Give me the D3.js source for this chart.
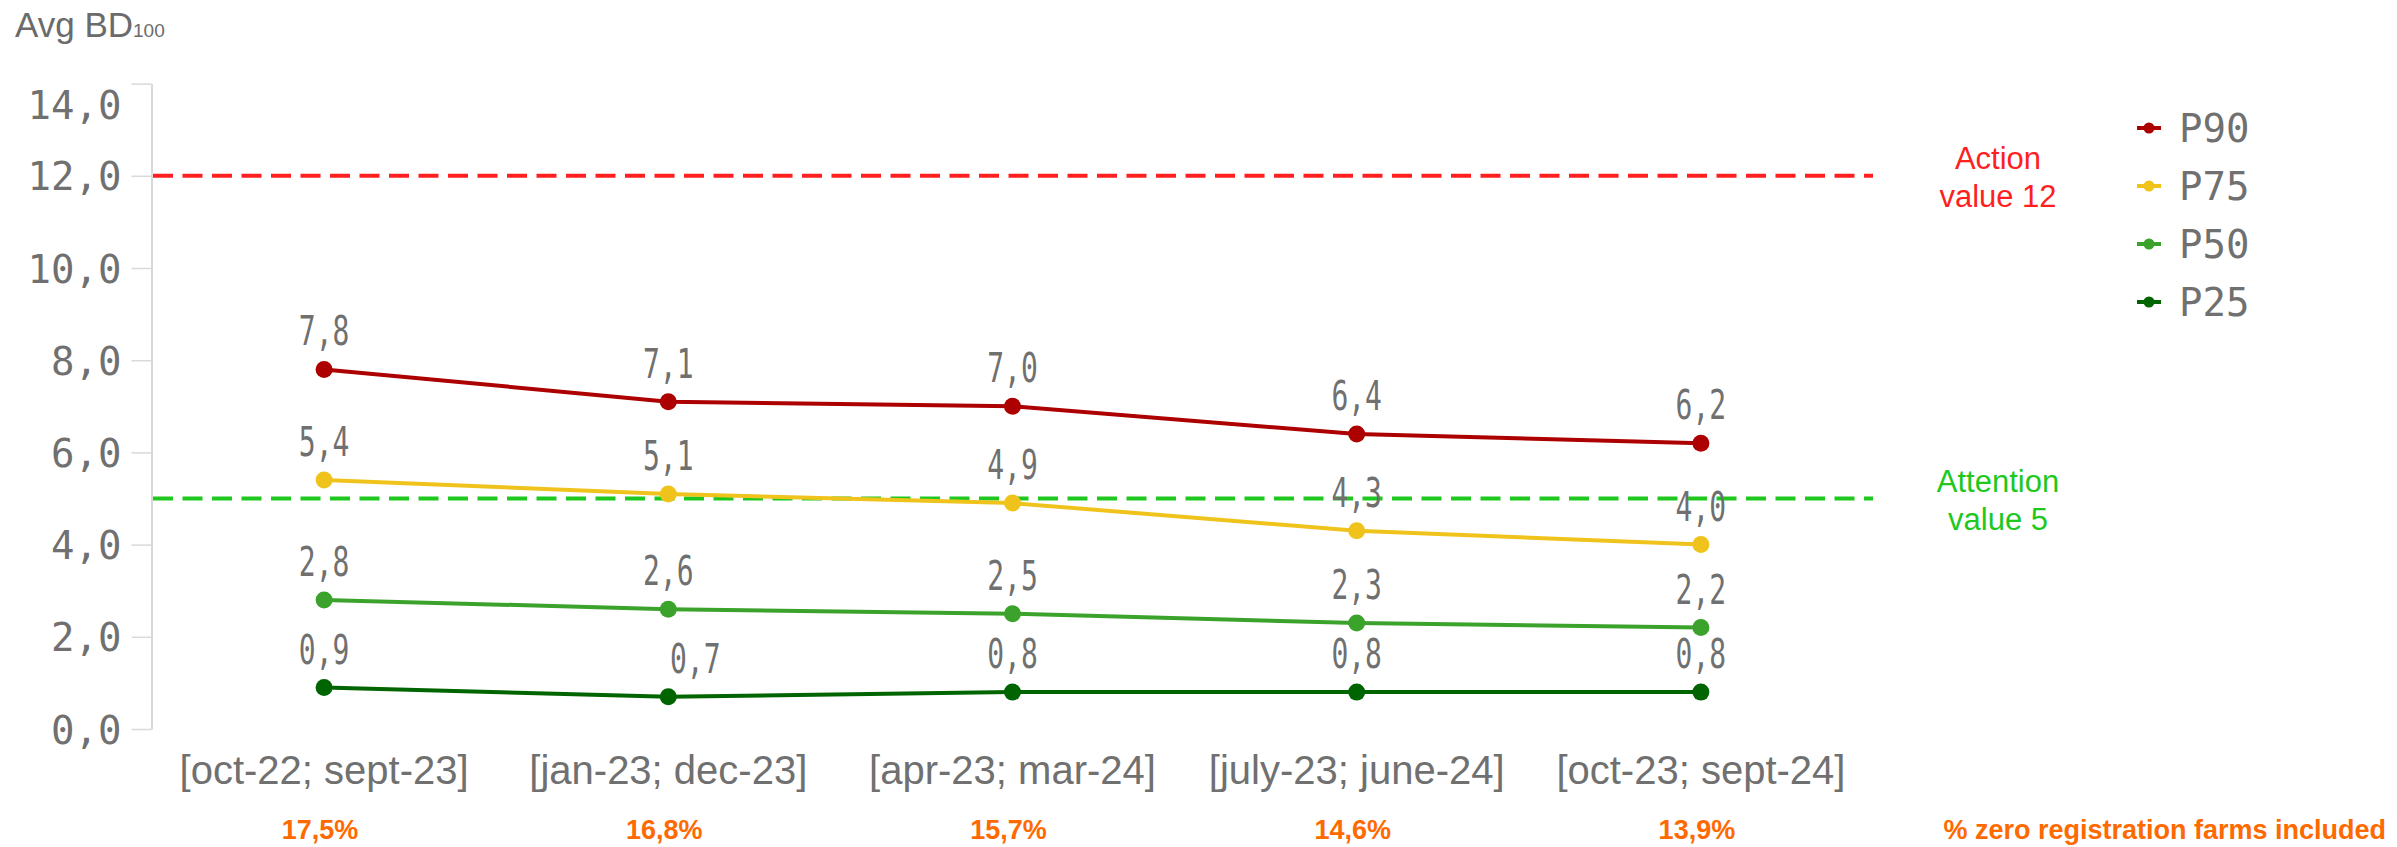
<!DOCTYPE html>
<meta charset="utf-8">
<html>
<head>
  <script src="https://d3js.org/d3.v7.min.js"></script>
  <style>
    body { margin: 0; background: #fff; }
    .y-axis path { stroke: #d9d9d9; stroke-width: 2; }
    .y-axis line { stroke: #d9d9d9; stroke-width: 1.5; }
    .y-axis text { font-family: 'DejaVu Sans Mono', monospace; font-size: 39px; fill: #707070; }
    .val { font-family: 'DejaVu Sans Mono', monospace; font-size: 40px; fill: #707070; }
    .xlab { font-family: 'Liberation Sans', Arial, sans-serif; font-size: 40px; fill: #707070; }
    .pct { font-family: 'Liberation Sans', Arial, sans-serif; font-size: 27px; font-weight: bold; fill: #ff6a00; }
    .leg { font-family: 'DejaVu Sans Mono', monospace; font-size: 39px; fill: #707070; }
    .ref { font-family: 'Liberation Sans', Arial, sans-serif; font-size: 31px; }
  </style>
</head>
<body>
  <script>
    //Data
    var periods = ["[oct-22; sept-23]", "[jan-23; dec-23]", "[apr-23; mar-24]", "[july-23; june-24]", "[oct-23; sept-24]"];
    var zeroShare = ["17,5%", "16,8%", "15,7%", "14,6%", "13,9%"];
    var p90 = [7.8, 7.1, 7.0, 6.4, 6.2];
    var p75 = [5.4, 5.1, 4.9, 4.3, 4.0];
    var p50 = [2.8, 2.6, 2.5, 2.3, 2.2];
    var p25 = [0.9, 0.7, 0.8, 0.8, 0.8];
    var seriesNames = ["P90", "P75", "P50", "P25"];
    var yTicks = [0, 2, 4, 6, 8, 10, 12, 14];
    var actionValue = 12;
    var attentionValue = 5;

    var colors = { P90: "#ad0000", P75: "#f0c31c", P50: "#3ba32b", P25: "#006400" };
    var series = [
      { name: "P90", values: p90 },
      { name: "P75", values: p75 },
      { name: "P50", values: p50 },
      { name: "P25", values: p25 }
    ];

    var W = 2397, H = 847;
    var svg = d3.select("body").append("svg")
      .attr("width", W)
      .attr("height", H);

    var loc = d3.formatLocale({ decimal: ",", thousands: ".", grouping: [3], currency: ["", "€"] });
    var fmt = loc.format(".1f");

    //Scales
    var x = d3.scaleBand()
      .domain(periods)
      .range([152, 1873]);

    var y = d3.scaleLinear()
      .domain([0, 14])
      .range([729, 83.6]);

    var cx = d => x(d) + x.bandwidth() / 2;

    //Title
    var title = svg.append("text")
      .attr("x", 15)
      .attr("y", 37)
      .style("font-family", "'Liberation Sans', Arial, sans-serif")
      .style("font-size", "35px")
      .style("fill", "#6b6b6b");
    title.append("tspan").text("Avg BD");
    title.append("tspan").style("font-size", "19px").text("100");

    //Y axis
    var yAxis = svg.append("g")
      .attr("class", "y-axis")
      .attr("transform", "translate(151.5,0)")
      .call(d3.axisLeft(y)
        .tickValues(yTicks)
        .tickSize(20)
        .tickSizeOuter(0)
        .tickPadding(10)
        .tickFormat(fmt));
    yAxis.selectAll("text").attr("dy", "0.36em");
    // top label is kept inside the plot
    yAxis.selectAll(".tick").filter(d => d === 14).select("text").attr("dy", "0.9em");

    //Reference lines
    var refs = [
      { v: actionValue, color: "#ff1f1f", lines: ["Action", "value " + actionValue] },
      { v: attentionValue, color: "#1ec81e", lines: ["Attention", "value " + attentionValue] }
    ];
    refs.forEach(function(r) {
      svg.append("line")
        .attr("x1", 153).attr("x2", 1873)
        .attr("y1", y(r.v)).attr("y2", y(r.v))
        .attr("stroke", r.color)
        .attr("stroke-width", 4)
        .attr("stroke-dasharray", "20,9.5");
      svg.append("text")
        .attr("class", "ref")
        .attr("text-anchor", "middle")
        .attr("x", 1998)
        .attr("y", y(r.v) - 7)
        .style("fill", r.color)
        .selectAll("tspan")
        .data(r.lines)
        .enter()
        .append("tspan")
        .attr("x", 1998)
        .attr("dy", (d, i) => i === 0 ? 0 : 38)
        .text(d => d);
    });

    //Lines
    var line = d3.line()
      .x((d, i) => cx(periods[i]))
      .y(d => y(d));

    svg.selectAll(".series")
      .data(series)
      .enter()
      .append("path")
      .attr("class", "series")
      .attr("fill", "none")
      .attr("stroke", d => colors[d.name])
      .attr("stroke-width", 4)
      .attr("d", d => line(d.values));

    series.forEach(function(s) {
      svg.selectAll(".dot-" + s.name)
        .data(s.values)
        .enter()
        .append("circle")
        .attr("cx", (d, i) => cx(periods[i]))
        .attr("cy", d => y(d))
        .attr("r", 8.5)
        .attr("fill", colors[s.name]);
    });

    //Value labels (one shifted right like in the original layout)
    var shift = { "P25-1": 27 };
    series.forEach(function(s) {
      svg.selectAll(".val-" + s.name)
        .data(s.values)
        .enter()
        .append("text")
        .attr("class", "val")
        .attr("text-anchor", "middle")
        .attr("transform", (d, i) => `translate(${cx(periods[i]) + (shift[s.name + "-" + i] || 0)}, ${y(d) - 24}) scale(0.7,1)`)
        .text(d => fmt(d));
    });

    //X labels
    svg.selectAll(".xlab")
      .data(periods)
      .enter()
      .append("text")
      .attr("class", "xlab")
      .attr("text-anchor", "middle")
      .attr("x", d => cx(d))
      .attr("y", 784)
      .text(d => d);

    svg.selectAll(".pct")
      .data(zeroShare)
      .enter()
      .append("text")
      .attr("class", "pct")
      .attr("text-anchor", "middle")
      .attr("x", (d, i) => cx(periods[i]) - 4)
      .attr("y", 839)
      .text(d => d);

    svg.append("text")
      .attr("class", "pct")
      .attr("text-anchor", "end")
      .attr("x", 2386)
      .attr("y", 839)
      .text("% zero registration farms included");

    //Legend
    var leg = svg.selectAll(".legend")
      .data(seriesNames)
      .enter()
      .append("g")
      .attr("transform", (d, i) => `translate(2137, ${128 + i * 58})`);
    leg.append("line")
      .attr("x1", 0).attr("x2", 24)
      .attr("stroke", d => colors[d])
      .attr("stroke-width", 4);
    leg.append("circle")
      .attr("cx", 12)
      .attr("r", 5.5)
      .attr("fill", d => colors[d]);
    leg.append("text")
      .attr("class", "leg")
      .attr("x", 42)
      .attr("dy", "0.36em")
      .text(d => d);
  </script>
</body>
</html>
